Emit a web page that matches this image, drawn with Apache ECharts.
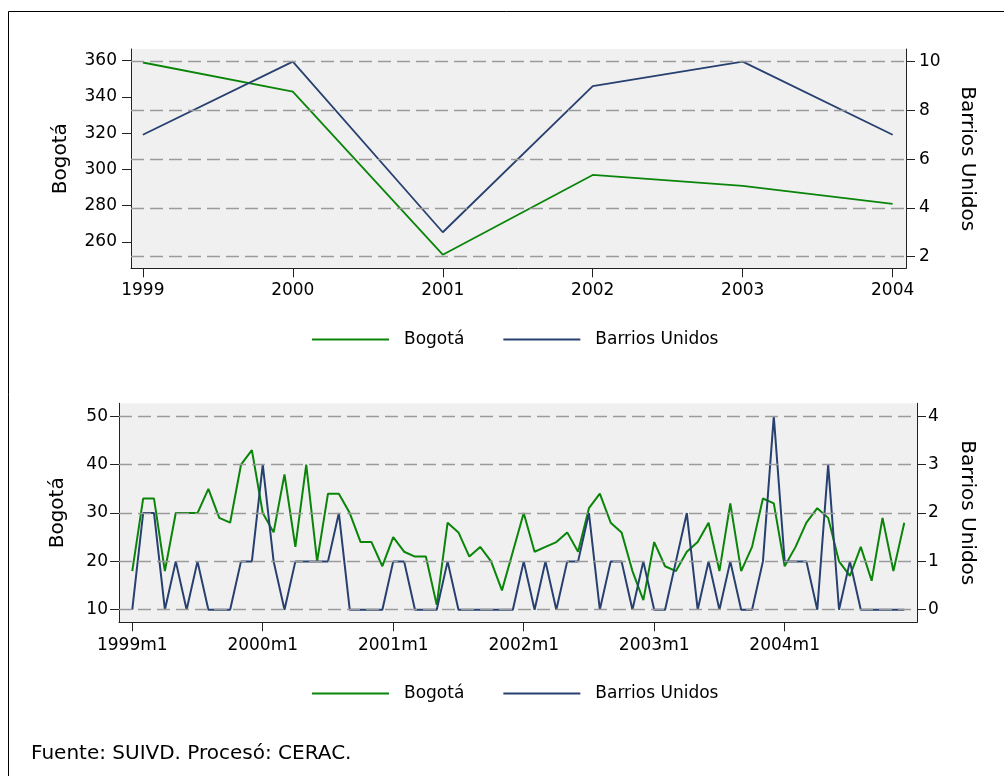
<!DOCTYPE html>
<html>
<head>
<meta charset="utf-8">
<script src="https://cdn.jsdelivr.net/npm/echarts@6/dist/echarts.min.js"></script>
<style>
html,body{margin:0;padding:0;background:#fff;}
#c{width:1004px;height:776px;}
</style>
</head>
<body>
<div id="c"></div>
<script>
// ---- data ----
var years = [1999, 2000, 2001, 2002, 2003, 2004];
var bogotaAnual = [359, 343, 253, 297, 291, 281];
var barriosAnual = [7, 10, 3, 9, 10, 7];

var bogotaMensual = [
  18,33,33,18,30,30,30,35,29,28,40,43,
  30,26,38,23,40,20,34,34,30,24,24,19,
  25,22,21,21,11,28,26,21,23,20,14,22,
  30,22,23,24,26,22,31,34,28,26,18,12,
  24,19,18,22,24,28,18,32,18,23,33,32,
  19,23,28,31,29,20,17,23,16,29,18,28
];
var barriosMensual = [
  0,2,2,0,1,0,1,0,0,0,1,1,
  3,1,0,1,1,1,1,2,0,0,0,0,
  1,1,0,0,0,1,0,0,0,0,0,0,
  1,0,1,0,1,1,2,0,1,1,0,1,
  0,0,1,2,0,1,0,1,0,0,1,4,
  1,1,1,0,3,0,1,0,0,0,0,0
];
var monthTickLabels = ['1999m1','2000m1','2001m1','2002m1','2003m1','2004m1'];
var topLeftTicks = [260, 280, 300, 320, 340, 360];
var topRightTicks = [2, 4, 6, 8, 10];
var botLeftTicks = [10, 20, 30, 40, 50];
var botRightTicks = [0, 1, 2, 3, 4];
var seriesNames = ['Bogotá', 'Barrios Unidos'];
var footer = 'Fuente: SUIVD. Procesó: CERAC.';

// ---- build ----
var GREEN = '#0a850a', BLUE = '#27406f', FONT = 'DejaVu Sans, sans-serif';
var fs = 17;
var topAnnual = function (arr) { return arr.map(function (v, i) { return [years[i], v]; }); };
var monthly = function (arr) { return arr.map(function (v, i) { return [i, v]; }); };
var monthTickPos = monthTickLabels.map(function (s, i) { return i * 12; });

function yAx(grid, pos, min, max, ticks, name, gap, nameRot, labMargin) {
  return {
    type: 'value', gridIndex: grid, position: pos, min: min, max: max,
    name: name, nameLocation: 'middle', nameGap: gap, nameRotate: nameRot,
    nameTextStyle: { fontFamily: FONT, fontSize: 20, color: '#000' },
    axisLine: { show: true, onZero: false, lineStyle: { color: '#222', width: 1 } },
    axisTick: { show: true, length: 9, customValues: ticks, lineStyle: { color: '#222' } },
    axisLabel: { customValues: ticks, margin: labMargin, fontFamily: FONT, fontSize: fs, color: '#000' },
    splitLine: { show: false }
  };
}
function xAx(grid, min, max, ticks, fmt, margin) {
  return {
    type: 'value', gridIndex: grid, min: min, max: max,
    axisLine: { show: true, onZero: false, lineStyle: { color: '#222', width: 1 } },
    axisTick: { show: true, length: 9, customValues: ticks, lineStyle: { color: '#222' } },
    axisLabel: { customValues: ticks, margin: margin, fontFamily: FONT, fontSize: fs, color: '#000', formatter: fmt },
    splitLine: { show: false }
  };
}
function gridLines(xi, yi, vals, data) {
  return {
    type: 'line', name: 'grid' + xi, xAxisIndex: xi, yAxisIndex: yi, data: data,
    symbol: 'none', lineStyle: { opacity: 0 }, silent: true, z: 1,
    markLine: {
      silent: true, symbol: 'none', label: { show: false },
      lineStyle: { type: [13, 6], color: '#9a9a9a', width: 1.3 },
      data: vals.map(function (v) { return { yAxis: v }; })
    }
  };
}
function lineS(name, xi, yi, data, color, w) {
  return { type: 'line', name: name, xAxisIndex: xi, yAxisIndex: yi, data: data, symbol: 'none',
    lineStyle: { color: color, width: w }, itemStyle: { color: color }, z: 3 };
}
function legend(top) {
  return {
    data: seriesNames, left: 307, top: top, icon: 'rect', itemWidth: 77, itemHeight: 2, itemGap: 39,
    selectedMode: false,
    textStyle: { fontFamily: FONT, fontSize: fs, color: '#000', padding: [0, 0, 0, 10] }
  };
}

var chart = echarts.init(document.getElementById('c'));
chart.setOption({
  animation: false,
  backgroundColor: '#fff',
  title: { text: footer, left: 26, top: 739, textStyle: { fontFamily: FONT, fontSize: 20, fontWeight: 'normal', color: '#000' } },
  graphic: [{ type: 'rect', shape: { x: 8.5, y: 11.5, width: 1100, height: 900 }, style: { fill: 'none', stroke: '#000', lineWidth: 1 }, silent: true }],
  legend: [legend(326), legend(680)],
  grid: [
    { left: 131, right: 98, top: 49, height: 219.3, show: true, backgroundColor: '#f0f0f0', borderWidth: 0 },
    { left: 119, right: 87, top: 403.3, height: 219, show: true, backgroundColor: '#f0f0f0', borderWidth: 0 }
  ],
  xAxis: [
    xAx(0, 1998.921, 2004.089, years, function (v) { return String(v); }, 14),
    xAx(1, -1.22, 72.17, monthTickPos, function (v) { return monthTickLabels[Math.round(v / 12)]; }, 15)
  ],
  yAxis: [
    yAx(0, 'left', 245.5, 366.45, topLeftTicks, 'Bogotá', 60, 90, 14),
    yAx(0, 'right', 1.52, 10.52, topRightTicks, 'Barrios Unidos', 51, -90, 13),
    yAx(1, 'left', 7.4, 52.7, botLeftTicks, 'Bogotá', 51, 90, 11),
    yAx(1, 'right', -0.26, 4.27, botRightTicks, 'Barrios Unidos', 40, -90, 11)
  ],
  series: [
    gridLines(0, 1, topRightTicks, topAnnual(barriosAnual)),
    gridLines(1, 3, botRightTicks, monthly(barriosMensual)),
    lineS(seriesNames[0], 0, 0, topAnnual(bogotaAnual), GREEN, 1.8),
    lineS(seriesNames[1], 0, 1, topAnnual(barriosAnual), BLUE, 1.8),
    lineS(seriesNames[0], 1, 2, monthly(bogotaMensual), GREEN, 2),
    lineS(seriesNames[1], 1, 3, monthly(barriosMensual), BLUE, 2)
  ]
});
</script>
</body>
</html>
